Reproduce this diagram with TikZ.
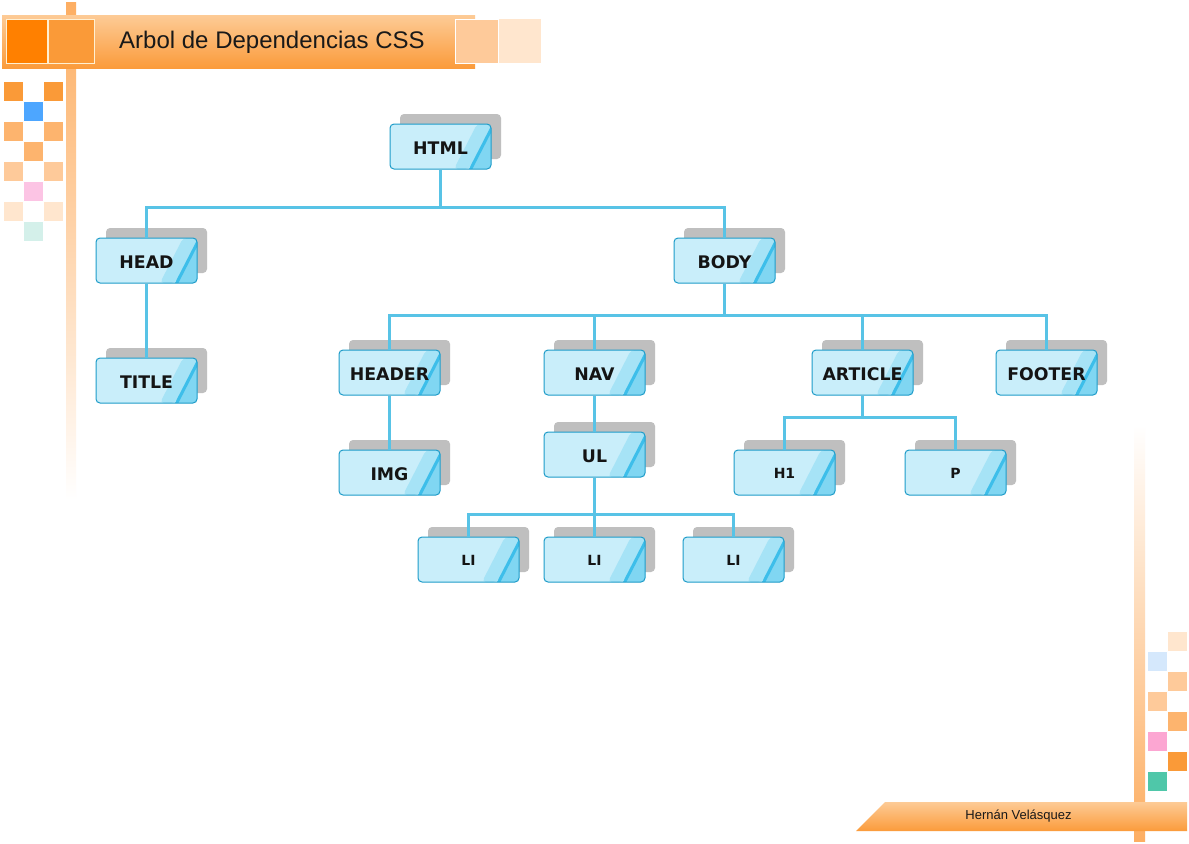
\documentclass[tikz,border=0pt]{standalone}
\usepackage{fontspec}
\setmainfont{Liberation Sans}
\newfontfamily\boxfont{DejaVu Sans}
\usetikzlibrary{shadows,calc}
\definecolor{boxlight}{HTML}{C9EEFA}
\definecolor{boxmid}{HTML}{A6E3F6}
\definecolor{boxright}{HTML}{80D6F2}
\definecolor{boxstripe}{HTML}{3DBEEA}
\definecolor{boxborder}{HTML}{1E9CC9}
\definecolor{connblue}{HTML}{58C3E6}
\definecolor{shadowgray}{HTML}{BFBFBF}
\definecolor{orA}{HTML}{FA9A38}
\definecolor{orB}{HTML}{FDB46E}
\definecolor{orC}{HTML}{FECA9A}
\definecolor{orD}{HTML}{FFE6CE}
\definecolor{bluesq}{HTML}{4DA6FF}
\definecolor{pinksq}{HTML}{FCC4E4}
\definecolor{mintsq}{HTML}{D4F0EA}
\definecolor{lbluesq}{HTML}{D5E8FC}
\definecolor{pinksqB}{HTML}{FCA6D2}
\definecolor{tealsq}{HTML}{4FC7A9}
\definecolor{hdrtop}{HTML}{FDCB96}
\definecolor{hdrbot}{HTML}{FB9B3B}
\definecolor{sqdark}{HTML}{FF8000}
\definecolor{sqedge}{HTML}{FFF0D2}
\definecolor{barcol}{HTML}{FDAE62}
\tikzset{
  treebox/.style={draw=boxborder, line width=0.75pt, fill=boxlight,
    rounded corners=3pt, minimum width=75.75pt, minimum height=33.75pt,
    inner sep=0pt, text height=11.6pt, text depth=0pt, text=black!92,
    font=\boxfont\bfseries\fontsize{13}{14}\selectfont,
    drop shadow={shadow xshift=7.5pt, shadow yshift=7.5pt, fill=shadowgray, opacity=1},
    path picture={
      \coordinate (pp) at (path picture bounding box.south west);
      \fill[boxmid] ($(pp)+(48pt,0pt)$) -- ($(pp)+(59.25pt,0pt)$) -- ($(pp)+(76.5pt,33.75pt)$) -- ($(pp)+(65.25pt,33.75pt)$) -- cycle;
      \fill[boxright] ($(pp)+(59.25pt,0pt)$) -- ($(pp)+(77pt,0pt)$) -- ($(pp)+(77pt,34pt)$) -- ($(pp)+(76.5pt,33.75pt)$) -- cycle;
      \draw[boxstripe, line width=2.25pt] ($(pp)+(60pt,-1pt)$) -- ($(pp)+(77pt,32pt)$);
    }},
  smallbox/.style={treebox, text height=9.6pt, font=\boxfont\bfseries\fontsize{10.5}{12}\selectfont},
  conn/.style={draw=connblue, line width=2.25pt}
}
\begin{document}
\begin{tikzpicture}[x=0.75pt,y=-0.75pt]
\useasboundingbox (0,0) rectangle (1189,843);
\fill[white] (0,0) rectangle (1189,843);
% vertical bars
\shade[top color=barcol, bottom color=white] (66,2) rectangle (76,500);
\shade[top color=white, bottom color=barcol] (1134,425) rectangle (1145,841);
% left checker
\fill[orA] (4,82) rectangle (23,101); \fill[orA] (44,82) rectangle (63,101);
\fill[bluesq] (24,102) rectangle (43,121);
\fill[orB] (4,122) rectangle (23,141); \fill[orB] (44,122) rectangle (63,141);
\fill[orB] (24,142) rectangle (43,161);
\fill[orC] (4,162) rectangle (23,181); \fill[orC] (44,162) rectangle (63,181);
\fill[pinksq] (24,182) rectangle (43,201);
\fill[orD] (4,202) rectangle (23,221); \fill[orD] (44,202) rectangle (63,221);
\fill[mintsq] (24,222) rectangle (43,241);
% right checker
\fill[orD] (1168,632) rectangle (1187,651);
\fill[lbluesq] (1148,652) rectangle (1167,671);
\fill[orC] (1168,672) rectangle (1187,691);
\fill[orC] (1148,692) rectangle (1167,711);
\fill[orB] (1168,712) rectangle (1187,731);
\fill[pinksqB] (1148,732) rectangle (1167,751);
\fill[orA] (1168,752) rectangle (1187,771);
\fill[tealsq] (1148,772) rectangle (1167,791);
% header
\shade[top color=hdrtop, bottom color=hdrbot] (2,15) rectangle (475,68);
\filldraw[fill=sqdark, draw=sqedge, line width=0.75pt] (6,19) rectangle (47,63);
\filldraw[fill=orA, draw=sqedge, line width=0.75pt] (48,19) rectangle (94,63);
\filldraw[fill=orC, draw=white, line width=0.75pt] (455,19) rectangle (498,63);
\fill[orD] (499,19) rectangle (541,63);
\node[font=\fontsize{18}{20}\selectfont, text=black!90] (hdrtitle) at (272,42.5) {Arbol de Dependencias CSS};
% footer
\shade[top color=hdrtop, bottom color=hdrbot] (856,831) -- (885,802) -- (1187,802) -- (1187,831) -- cycle;
\node[font=\fontsize{9.75}{11}\selectfont, text=black!90] (author) at (1018.5,816.5) {Hernán Velásquez};
% tree nodes
\node[treebox] (html) at (440.5,146.5) {HTML};
\node[treebox] (head) at (146.5,260.5) {HEAD};
\node[treebox] (body) at (724.5,260.5) {BODY};
\node[treebox] (title) at (146.5,380.5) {TITLE};
\node[treebox] (header) at (389.5,372.5) {HEADER};
\node[treebox] (nav) at (594.5,372.5) {NAV};
\node[treebox] (article) at (862.5,372.5) {ARTICLE};
\node[treebox] (footer) at (1046.5,372.5) {FOOTER};
\node[treebox] (img) at (389.5,472.5) {IMG};
\node[treebox] (ul) at (594.5,454.5) {UL};
\node[smallbox] (h1) at (784.5,472.5) {H1};
\node[smallbox] (p) at (955.5,472.5) {P};
\node[smallbox] (li1) at (468.5,559.5) {LI};
\node[smallbox] (li2) at (594.5,559.5) {LI};
\node[smallbox] (li3) at (733.5,559.5) {LI};
% connectors
\coordinate (bus1) at (440.5,207);
\coordinate (bus2) at (724.5,315);
\coordinate (bus3) at (862.5,417);
\coordinate (bus4) at (594.5,514);
\draw[conn] (html.south) -- (bus1);
\draw[conn] (head.north) |- (bus1) -| (body.north);
\draw[conn] (head.south) -- (title.north);
\draw[conn] (body.south) -- (bus2);
\draw[conn] (header.north) |- (bus2) -| (footer.north);
\draw[conn] (nav.north) -- (nav.north |- bus2);
\draw[conn] (article.north) -- (article.north |- bus2);
\draw[conn] (header.south) -- (img.north);
\draw[conn] (nav.south) -- (ul.north);
\draw[conn] (article.south) -- (bus3);
\draw[conn] (h1.north) |- (bus3) -| (p.north);
\draw[conn] (ul.south) -- (li2.north);
\draw[conn] (li1.north) |- (bus4) -| (li3.north);
\end{tikzpicture}
\end{document}
